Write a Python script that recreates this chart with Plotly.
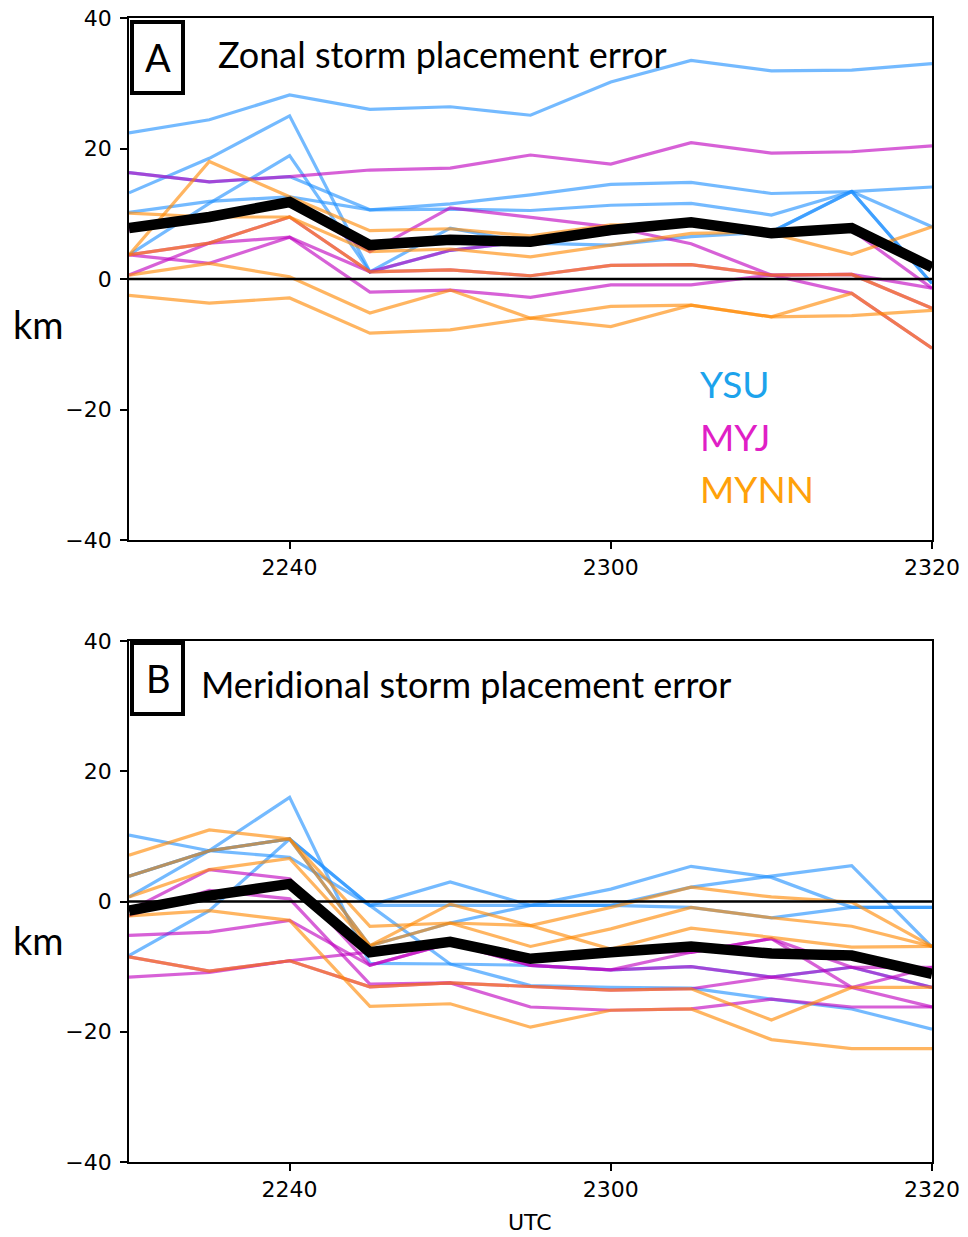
import plotly.graph_objects as go

# Analysis times (UTC) and axis ticks
TIMES = ["2230", "2235", "2240", "2245", "2250", "2255", "2300", "2305", "2310", "2315", "2320"]
X_TICKS = ["2240", "2300", "2320"]
Y_TICKS = [-40, -20, 0, 20, 40]
Y_TICK_TEXT = ["\u221240", "\u221220", "0", "20", "40"]

# Zonal storm placement error (km), ensemble members per PBL scheme
ZONAL_YSU = [
    [22.4, 24.4, 28.2, 26.0, 26.4, 25.1, 30.2, 33.5, 31.9, 32.0, 33.0],
    [13.2, 18.5, 25.0, 1.1, 7.8, 5.5, 5.2, 6.5, 7.2, 13.4, 8.0],
    [10.2, 11.9, 12.6, 10.6, 11.5, 12.9, 14.5, 14.8, 13.1, 13.4, 14.1],
    [16.3, 14.9, 15.7, 10.6, 10.7, 10.5, 11.3, 11.6, 9.8, 13.4, -0.7],
    [3.7, 11.6, 18.9, 1.1, 4.4, 5.8, 7.0, 8.7, 7.2, 13.4, -0.7],
]
ZONAL_MYJ = [
    [16.3, 14.9, 15.7, 16.7, 17.0, 19.0, 17.6, 20.9, 19.3, 19.5, 20.4],
    [3.7, 2.4, 6.4, 1.1, 4.4, 5.8, 7.0, 8.7, 7.2, 7.5, -1.4],
    [0.6, 5.5, 6.4, -2.0, -1.7, -2.8, -0.9, -0.9, 0.6, 0.7, -1.4],
    [3.7, 5.5, 9.5, 1.1, 1.4, 0.5, 2.1, 2.2, 0.6, 0.7, -4.5],
    [7.5, 9.5, 11.8, 4.2, 10.9, 9.5, 8.0, 5.4, 0.6, -2.2, -10.6],
]
ZONAL_MYNN = [
    [3.7, 18.0, 12.6, 7.4, 7.7, 6.6, 8.3, 8.2, 7.0, 3.8, 8.0],
    [10.1, 9.5, 9.5, 4.2, 4.6, 3.4, 5.2, 7.0, 7.2, 7.5, 1.9],
    [3.7, 5.5, 9.5, 1.1, 1.4, 0.5, 2.1, 2.2, 0.6, 0.7, -4.5],
    [0.6, 2.4, 0.35, -5.2, -1.7, -6.0, -4.2, -4.0, -5.8, -2.2, -10.6],
    [-2.5, -3.7, -2.9, -8.3, -7.8, -6.0, -7.3, -4.0, -5.8, -5.6, -4.8],
]
ZONAL_MEAN = [7.8, 9.5, 11.8, 5.2, 6.0, 5.7, 7.5, 8.7, 7.0, 7.8, 1.8]

# Meridional storm placement error (km)
MERID_YSU = [
    [10.2, 7.8, 6.8, -0.6, 3.0, -0.6, 1.9, 5.4, 3.7, -0.9, -0.9],
    [0.7, 7.8, 16.0, -9.5, -9.6, -12.9, -13.2, -13.3, -15.0, -16.5, -19.6],
    [3.9, 7.8, 9.6, -0.6, -0.6, -0.6, -0.6, -0.9, -2.5, -0.9, -0.9],
    [-8.3, -1.4, 9.6, -6.8, -3.3, -0.6, -0.6, 2.2, 3.9, 5.5, -7.0],
    [3.9, 7.8, 9.6, -0.6, -9.6, -9.8, -10.5, -10.0, -11.6, -10.1, -13.2],
]
MERID_MYJ = [
    [-1.4, 4.9, 3.5, -9.8, -6.4, -9.8, -10.5, -10.0, -11.6, -10.1, -10.1],
    [-5.2, -4.7, -2.9, -9.8, -6.4, -8.8, -7.5, -7.8, -5.7, -10.1, -13.2],
    [-11.6, -10.9, -9.1, -7.8, -6.4, -9.8, -10.5, -7.8, -5.7, -13.2, -16.2],
    [-2.2, 1.7, 0.4, -12.7, -12.5, -16.2, -16.7, -16.5, -15.0, -16.2, -16.2],
    [-8.5, -10.7, -9.1, -13.1, -12.5, -13.1, -13.6, -13.4, -11.6, -13.2, -10.1],
]
MERID_MYNN = [
    [7.1, 11.0, 9.6, -6.8, -0.4, -3.7, -0.9, 2.2, 0.7, -0.1, -6.9],
    [3.9, 7.8, 9.6, -3.8, -3.3, -6.9, -4.2, -0.9, -2.5, -3.8, -6.9],
    [0.7, 4.9, 6.6, -6.8, -3.3, -3.7, -7.3, -4.1, -5.5, -7.0, -6.9],
    [-2.2, -1.4, -2.9, -16.1, -15.7, -19.3, -16.7, -16.5, -21.2, -22.6, -22.6],
    [-8.5, -10.7, -9.1, -13.1, -12.5, -13.1, -13.6, -13.4, -18.2, -13.2, -13.2],
]
MERID_MEAN = [-1.4, 0.9, 2.7, -7.8, -6.2, -8.8, -7.8, -6.9, -8.0, -8.3, -11.1]

SCHEMES = ["YSU", "MYJ", "MYNN"]
LINE_COLORS = {"YSU": "rgba(30,144,255,0.62)", "MYJ": "rgba(191,0,191,0.62)", "MYNN": "rgba(255,135,0,0.62)"}
LABEL_COLORS = {"YSU": "#1ca3ec", "MYJ": "#e01fc6", "MYNN": "#ffa10a"}

W, H = 968, 1237
ML, MR, MT, MB = 129, 36, 18, 75
PW, PH = W - ML - MR, H - MT - MB


def px(x):
    return (x - ML) / PW


def py(y):
    return (H - MB - y) / PH


fig = go.Figure()

panels = [
    ("x", "y", {"YSU": ZONAL_YSU, "MYJ": ZONAL_MYJ, "MYNN": ZONAL_MYNN}, ZONAL_MEAN),
    ("x2", "y2", {"YSU": MERID_YSU, "MYJ": MERID_MYJ, "MYNN": MERID_MYNN}, MERID_MEAN),
]

for xa, ya, members, mean in panels:
    for scheme in SCHEMES:
        for series in members[scheme]:
            fig.add_trace(go.Scatter(
                x=TIMES, y=series, mode="lines", xaxis=xa, yaxis=ya,
                line=dict(color=LINE_COLORS[scheme], width=3.2),
                showlegend=False, hoverinfo="skip"))
    # zero reference line
    fig.add_trace(go.Scatter(
        x=[TIMES[0], TIMES[-1]], y=[0, 0], mode="lines", xaxis=xa, yaxis=ya,
        line=dict(color="black", width=2.5), showlegend=False, hoverinfo="skip"))
    # ensemble mean
    fig.add_trace(go.Scatter(
        x=TIMES, y=mean, mode="lines", xaxis=xa, yaxis=ya,
        line=dict(color="black", width=10.5), showlegend=False, hoverinfo="skip"))

axis_common = dict(
    showline=True, mirror=True, linecolor="black", linewidth=1.6,
    ticks="outside", ticklen=7, tickwidth=1.5, tickcolor="black",
    showgrid=False, zeroline=False, automargin=False,
    tickfont=dict(family="DejaVu Sans", size=22, color="black"),
)

xaxis_common = dict(axis_common, type="category", categoryorder="array", categoryarray=TIMES,
                    range=[0, len(TIMES) - 1], tickmode="array", tickvals=X_TICKS, ticktext=X_TICKS)
yaxis_common = dict(axis_common, range=[-40, 40], tickmode="array",
                    tickvals=Y_TICKS, ticktext=Y_TICK_TEXT, ticklabelstandoff=4)

fig.update_layout(
    width=W, height=H,
    margin=dict(l=ML, r=MR, t=MT, b=MB, autoexpand=False),
    paper_bgcolor="white", plot_bgcolor="white",
    xaxis=dict(xaxis_common, domain=[0, 1], anchor="y"),
    yaxis=dict(yaxis_common, domain=[py(540), 1], anchor="x"),
    xaxis2=dict(xaxis_common, domain=[0, 1], anchor="y2"),
    yaxis2=dict(yaxis_common, domain=[0, py(641)], anchor="x2"),
)

label_font = "Lato, 'Open Sans', sans-serif"

# x-axis title of the lower panel
fig.add_annotation(x=px(530), y=py(1222), xref="paper", yref="paper",
                   text="UTC", showarrow=False, xanchor="center", yanchor="middle",
                   font=dict(family="DejaVu Sans", size=22, color="black"))

# panel letter boxes
for letter, top, bottom in [("A", 22, 93), ("B", 643, 714)]:
    fig.add_shape(type="rect", xref="paper", yref="paper",
                  x0=px(132), x1=px(183), y0=py(bottom), y1=py(top),
                  line=dict(color="black", width=4), fillcolor="white", layer="above")
    fig.add_annotation(x=px(158), y=py((top + bottom) / 2), xref="paper", yref="paper",
                       text=letter, showarrow=False, xanchor="center", yanchor="middle",
                       font=dict(family=label_font, size=38, color="black"))

fig.add_annotation(x=px(216), y=py(54), xref="paper", yref="paper",
                   text="Zonal storm placement error", showarrow=False,
                   xanchor="left", yanchor="middle",
                   font=dict(family=label_font, size=36, color="black"))
fig.add_annotation(x=px(199), y=py(684), xref="paper", yref="paper",
                   text="Meridional storm placement error", showarrow=False,
                   xanchor="left", yanchor="middle",
                   font=dict(family=label_font, size=36, color="black"))

for ycen in (324, 940):
    fig.add_annotation(x=px(11), y=py(ycen), xref="paper", yref="paper",
                       text="km", showarrow=False, xanchor="left", yanchor="middle",
                       font=dict(family=label_font, size=38, color="black"))

for scheme, ycen in zip(SCHEMES, (383, 436, 489)):
    fig.add_annotation(x=px(698), y=py(ycen), xref="paper", yref="paper",
                       text=scheme, showarrow=False, xanchor="left", yanchor="middle",
                       font=dict(family=label_font, size=37, color=LABEL_COLORS[scheme]))

fig.write_html("out.html")
